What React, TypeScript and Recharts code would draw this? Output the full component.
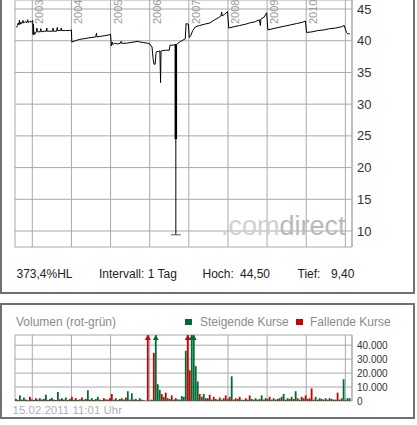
import React from "react";
import { ComposedChart, Line, Bar, XAxis, YAxis, CartesianGrid } from "recharts";

const FONT = '"Liberation Sans", Arial, sans-serif';
const GRID = "#a9a9a9";
const GREEN = "#006b35";
const RED = "#cc0000";

// time axis (years) shared by both panels
const X_DOMAIN = [2002.558, 2011.17];
const YEARS = [2003, 2004, 2005, 2006, 2007, 2008, 2009, 2010, 2011];
const YEAR_LABELS = ["2003", "2004", "2005", "2006", "2007", "2008", "2009", "2010", ""];
const PRICE_TICKS = [10, 15, 20, 25, 30, 35, 40, 45];
const VOL_TICKS = [0, 10000, 20000, 30000, 40000];

// price line
const priceT = [
  2002.6, 2002.62, 2002.64, 2002.66, 2002.67, 2002.69, 2002.71, 2002.73, 2002.76, 2002.78,
  2002.8, 2002.83, 2002.86, 2002.88, 2002.9, 2002.93, 2002.95, 2002.97, 2003.0, 2003.01,
  2003.02, 2003.03, 2003.04, 2003.05, 2003.07, 2003.1, 2003.12, 2003.13, 2003.2, 2003.22,
  2003.23, 2003.3, 2003.36, 2003.37, 2003.38, 2003.45, 2003.52, 2003.53, 2003.54, 2003.62,
  2003.64, 2003.65, 2003.72, 2003.74, 2003.75, 2003.85, 2003.95, 2004.0,
  2004.01, 2004.1, 2004.2, 2004.3, 2004.4, 2004.5, 2004.62, 2004.64, 2004.65, 2004.75, 2004.85, 2004.95, 2005.0,
  2005.02, 2005.04, 2005.06, 2005.1, 2005.18, 2005.25, 2005.27, 2005.28, 2005.4, 2005.5,
  2005.6, 2005.7, 2005.75, 2005.85, 2005.95, 2006.0,
  2006.06, 2006.09, 2006.11, 2006.14, 2006.16, 2006.18, 2006.22, 2006.26, 2006.278, 2006.29,
  2006.3, 2006.4, 2006.5, 2006.52, 2006.6, 2006.66,
  2006.68, 2006.72, 2006.77, 2006.85, 2006.91, 2006.93, 2006.99, 2007.01, 2007.05, 2007.1,
  2007.17, 2007.28, 2007.4, 2007.54, 2007.66, 2007.75, 2007.82, 2007.84, 2007.85, 2007.92, 2007.99,
  2008.02, 2008.15, 2008.3, 2008.45, 2008.55, 2008.7, 2008.8, 2008.83, 2008.84, 2008.92, 2008.99,
  2009.02, 2009.15, 2009.3, 2009.45, 2009.6, 2009.75, 2009.9, 2009.98,
  2010.01, 2010.15, 2010.3, 2010.45, 2010.6, 2010.75, 2010.9, 2010.97, 2011.03, 2011.06, 2011.11,
];
const priceV = [
  42.1, 42.4, 42.8, 42.5, 43.2, 42.6, 42.9, 42.7, 43.2, 42.8,
  42.9, 43.0, 42.8, 43.3, 42.9, 43.0, 43.1, 42.9, 43.1, 43.2,
  41.0, 42.6, 40.9, 41.3, 41.1, 41.4, 42.0, 41.4, 41.4, 41.9,
  41.4, 41.5, 41.5, 42.0, 41.5, 41.5, 41.5, 42.0, 41.5, 41.5,
  42.1, 41.6, 41.6, 42.0, 41.6, 41.6, 41.6, 41.7,
  39.8, 40.0, 40.2, 40.3, 40.4, 40.5, 40.6, 41.2, 40.6, 40.7, 40.8, 40.9, 41.0,
  39.2, 39.8, 39.4, 39.6, 39.5, 39.6, 39.9, 39.6, 39.6, 39.7,
  39.8, 39.9, 39.8, 39.7, 39.6, 39.5,
  39.0, 37.0, 36.3, 36.3, 38.0, 38.3, 38.3, 38.4, 33.4, 38.4,
  38.4, 38.5, 38.5, 39.3, 39.3, 39.4,
  39.4, 39.6, 39.8, 40.1, 40.3, 42.7, 42.6, 40.5, 40.8, 41.6,
  42.2, 42.4, 42.6, 42.8, 43.3, 43.6, 43.9, 44.5, 43.9, 44.2, 44.6,
  42.0, 42.2, 42.4, 42.6, 42.8, 43.0, 43.3, 42.4, 43.4, 43.7, 44.4,
  41.7, 41.9, 42.1, 42.3, 42.5, 42.7, 42.9, 43.1,
  41.3, 41.4, 41.6, 41.7, 41.9, 42.0, 42.2, 42.4, 41.3, 41.1, 41.1,
];

// the one day with the deep high-low range
const hlT = [2006.668];
const hlHigh = [39.4];
const hlLow = [9.4];
const hlThickLow = [24.5];

// volume per period, in thousands (g = rising, r = falling)
const VOL_START = 2002.584;
const VOL_STEP = 0.05106;
const VOL_MAX = 47300;
const volK = [
  1.5, 0.8, 4, 1, 2.5, 1, 0.6, 3, 1.2, 0.8, 2, 1,
  2, 1, 1.5, 4.5, 0.8, 1.5, 2.2, 1, 0.7, 6.5, 1.2, 2,
  1, 2.5, 0.8, 1.5, 3, 1, 2, 0.8, 1.2, 2.5, 1, 1.5,
  7.7, 1, 2, 0.8, 1.5, 3, 1, 0.7, 2, 1.2, 1, 2,
  5, 1, 2, 0.8, 1.5, 2, 1, 2.5, 7, 1, 5.5, 1,
  1.5, 0.8, 2, 1, 0.5, 0.3, 60, 0.5, 1, 34.5, 60, 12,
  8, 5, 3, 6, 2, 1.5, 4, 1, 2, 1.2, 1, 3.5,
  3, 36, 60, 22, 60, 60, 25, 14, 5, 3, 5, 2,
  2, 4.5, 1, 3, 1.5, 1, 2.5, 1, 2, 4, 1.5, 3,
  17.7, 1, 2, 1.5, 3, 1, 0.8, 2, 1, 4, 1.5, 1,
  2, 1, 1.5, 4, 1, 2, 1.5, 3, 1, 2, 1, 1.5,
  2, 3, 5, 1, 2, 1.5, 3, 1.5, 7, 2, 1, 3,
  2, 4, 1.5, 2, 9, 1, 3, 1, 2, 1.5, 1, 2,
  1, 2, 1.5, 1, 1, 6, 1, 2, 15.6, 1, 2, 2,
];
const volDir =
  "grgggrgrggrg" + "ggrgrgggrgrg" + "rgggrgrggrgg" + "grgrggrgrggr" +
  "rgggrggrgggr" + "grggrgrggrgg" + "grgrggrgrggg" + "ggrrggggrggr" +
  "grgrggrggrgr" + "ggrgrggrgrgg" + "grgggrgrgggr" + "rggrgrgggrgr" +
  "grgrrggrgrgg" + "grgrgrgggrgg";

const priceData = priceT.map((t, i) => ({ t, v: priceV[i] }));
const hlData = [
  { t: hlT[0], v: hlHigh[0] },
  { t: hlT[0], v: hlLow[0] },
];
const hlThickData = [
  { t: hlT[0], v: hlHigh[0] },
  { t: hlT[0], v: hlThickLow[0] },
];
const volData = volK.map((k, i) => ({
  t: VOL_START + i * VOL_STEP,
  vol: Math.min(k * 1000, VOL_MAX),
  over: k * 1000 > VOL_MAX,
  up: volDir[i] === "g",
}));

const fmtThousands = (v: number) => String(v).replace(/\B(?=(\d{3})+(?!\d))/g, ".");

// year labels sit rotated at the top of the plot, right of each gridline
const YearTick = (props: any) => {
  const { x, payload } = props;
  const label = YEAR_LABELS[YEARS.indexOf(payload.value)];
  if (!label) return <g />;
  const ax = x + 11;
  return (
    <text x={ax} y={24} transform={`rotate(-90 ${ax} 24)`} fill="#9a9a9a" fontSize={11} fontFamily={FONT}>
      {label}
    </text>
  );
};

const LowCap = (props: any) => {
  const { cx, cy, index } = props;
  if (index !== 1) return <g key={index} />;
  return <line key={index} x1={cx - 5} x2={cx + 5} y1={cy} y2={cy} stroke="#555" strokeWidth={1} />;
};

const VolBar = (props: any) => {
  const { x, y, width, height, payload } = props;
  const fill = payload.up ? GREEN : RED;
  const cx = x + width / 2;
  return (
    <g>
      <rect x={x} y={y} width={width} height={height} fill={fill} />
      {payload.over && <polygon points={`${cx - 3},${y + 5} ${cx + 3},${y + 5} ${cx},${y}`} fill={fill} />}
    </g>
  );
};

export default function App() {
  return (
    <div style={{ position: "fixed", left: 0, top: 0, width: 417, height: 425, background: "#fff", fontFamily: FONT, overflow: "hidden" }}>
      <div style={{ position: "absolute", left: 0, top: -2, width: 415, height: 296, border: "2px solid #707070", boxSizing: "border-box" }} />
      <div style={{ position: "absolute", left: 0, top: 303, width: 415, height: 116, border: "2px solid #707070", boxSizing: "border-box" }} />

      <div style={{ position: "absolute", left: 0, top: 0 }}>
        <ComposedChart width={417} height={250} margin={{ top: 0, right: 0, bottom: 0, left: 15 }}>
          <CartesianGrid stroke={GRID} />
          <XAxis type="number" dataKey="t" domain={X_DOMAIN} allowDataOverflow ticks={YEARS} interval={0} hide />
          <XAxis
            xAxisId="b"
            type="number"
            dataKey="t"
            domain={X_DOMAIN}
            allowDataOverflow
            ticks={YEARS}
            interval={0}
            orientation="bottom"
            height={3}
            tick={YearTick}
            tickLine={false}
            axisLine={{ stroke: GRID }}
          />
          <YAxis
            orientation="right"
            width={65}
            domain={[7.48, 46.42]}
            allowDataOverflow
            ticks={PRICE_TICKS}
            interval={0}
            tickLine={false}
            tickSize={5}
            tickMargin={0}
            axisLine={{ stroke: GRID }}
            tick={{ fill: "#333", fontSize: 13, fontFamily: FONT }}
          />
          <Line data={priceData} dataKey="v" stroke="#000" strokeWidth={1} dot={false} isAnimationActive={false} />
          <Line data={hlData} dataKey="v" stroke="#000" strokeWidth={1} dot={LowCap} isAnimationActive={false} />
          <Line data={hlThickData} dataKey="v" stroke="#000" strokeWidth={2.5} dot={false} isAnimationActive={false} />
        </ComposedChart>
      </div>

      <svg width={417} height={425} style={{ position: "absolute", left: 0, top: 0, pointerEvents: "none" }}>
        <text x={221} y={235} fontSize={27} fontFamily={FONT}>
          <tspan fill="#d0d0d0">.com</tspan>
          <tspan fill="#b9b9b9">direct</tspan>
        </text>
        <g fontSize={12} fill="#222" fontFamily={FONT}>
          <text x={16.5} y={278}>373,4%HL</text>
          <text x={99} y={278}>Intervall: 1 Tag</text>
          <text x={202.5} y={278}>Hoch:</text>
          <text x={240} y={278}>44,50</text>
          <text x={297.5} y={278}>Tief:</text>
          <text x={331} y={278}>9,40</text>
        </g>
        <g fontSize={12} fill="#8a8a8a" fontFamily={FONT}>
          <text x={16} y={326}>Volumen (rot-grün)</text>
          <text x={200} y={326}>Steigende Kurse</text>
          <text x={310} y={326}>Fallende Kurse</text>
        </g>
        <rect x={185} y={319} width={7} height={6} fill={GREEN} />
        <rect x={296} y={319} width={7} height={6} fill={RED} />
        <text x={12.5} y={414} fontSize={11.5} fill="#b0b0b0" fontFamily={FONT}>15.02.2011 11:01 Uhr</text>
      </svg>

      <div style={{ position: "absolute", left: 0, top: 330 }}>
        <ComposedChart width={417} height={85} data={volData} margin={{ top: 5, right: 0, bottom: 14, left: 15 }}>
          <CartesianGrid stroke={GRID} />
          <XAxis type="number" dataKey="t" domain={X_DOMAIN} allowDataOverflow ticks={YEARS} interval={0} hide />
          <YAxis
            orientation="right"
            width={65}
            domain={[0, VOL_MAX]}
            allowDataOverflow
            ticks={VOL_TICKS}
            interval={0}
            tickLine={false}
            tickSize={5}
            tickMargin={0}
            axisLine={{ stroke: GRID }}
            tickFormatter={fmtThousands}
            tick={{ fill: "#333", fontSize: 10, fontFamily: FONT }}
          />
          <Bar dataKey="vol" barSize={2} shape={VolBar} isAnimationActive={false} />
        </ComposedChart>
      </div>
    </div>
  );
}
